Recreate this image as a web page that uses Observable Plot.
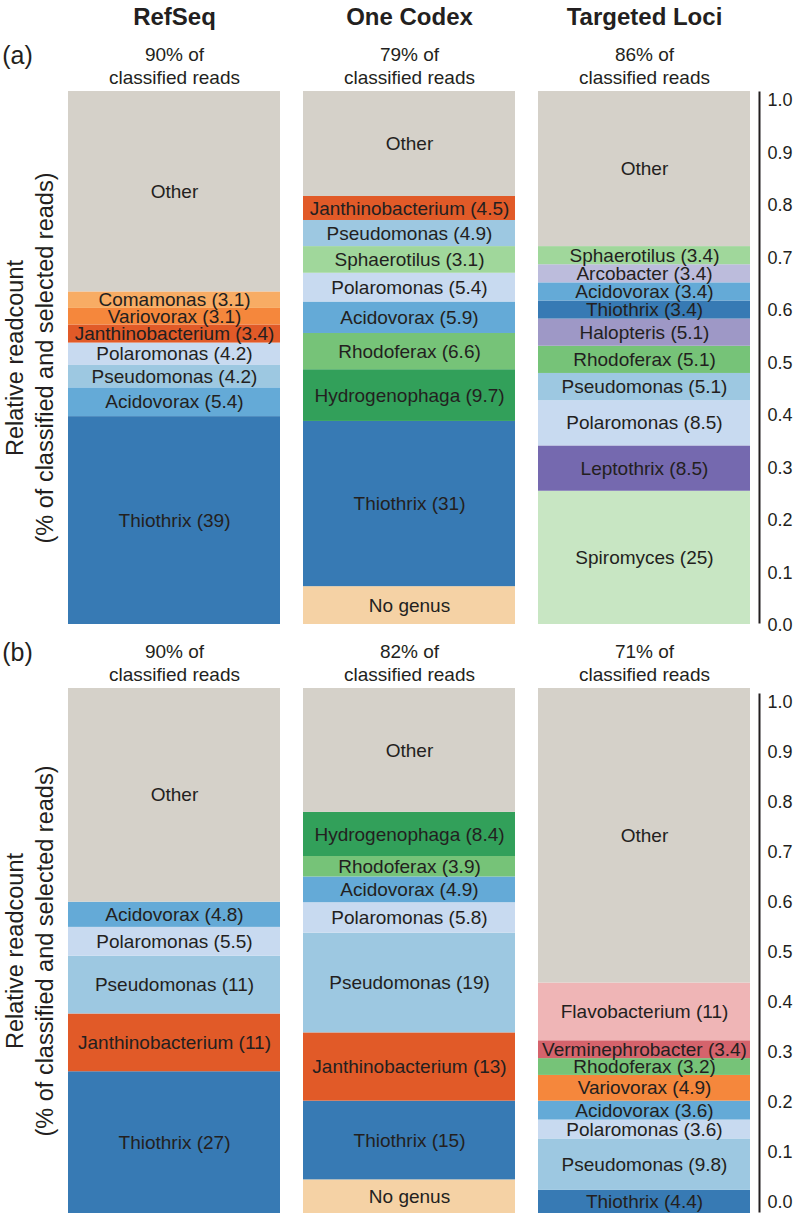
<!DOCTYPE html>
<html>
<head>
<meta charset="utf-8">
<script src="https://cdn.jsdelivr.net/npm/d3@7"></script>
<script src="https://cdn.jsdelivr.net/npm/@observablehq/plot@0.6"></script>
<style>
  html, body { margin: 0; padding: 0; background: #ffffff; }
  #chart svg { display: block; }
  .panel { position: relative; width: 800px; }
</style>
</head>
<body>
<div id="chart"></div>
<script>
// ---------- data ----------
const sources = ["RefSeq", "One Codex", "Targeted Loci"];
const panelTags = ["(a)", "(b)"];
const aClassifiedPct = [90, 79, 86];
const bClassifiedPct = [90, 82, 71];

// bars listed bottom -> top; "drawn" = segment height (% of bar), "printed" = number in the label
const aRefSeqGenus   = ["Thiothrix", "Acidovorax", "Pseudomonas", "Polaromonas", "Janthinobacterium", "Variovorax", "Comamonas", "Other"];
const aRefSeqDrawn   = [39, 5.4, 4.2, 4.2, 3.4, 3.1, 3.1, 37.6];
const aRefSeqPrinted = [39, 5.4, 4.2, 4.2, 3.4, 3.1, 3.1, null];

const aOneCodexGenus   = ["No genus", "Thiothrix", "Hydrogenophaga", "Rhodoferax", "Acidovorax", "Polaromonas", "Sphaerotilus", "Pseudomonas", "Janthinobacterium", "Other"];
const aOneCodexDrawn   = [7.1, 31, 9.7, 6.8, 5.9, 5.4, 5.0, 4.9, 4.5, 19.7];
const aOneCodexPrinted = [null, 31, 9.7, 6.6, 5.9, 5.4, 3.1, 4.9, 4.5, null];

const aTargetedGenus   = ["Spiromyces", "Leptothrix", "Polaromonas", "Pseudomonas", "Rhodoferax", "Halopteris", "Thiothrix", "Acidovorax", "Arcobacter", "Sphaerotilus", "Other"];
const aTargetedDrawn   = [25, 8.5, 8.5, 5.1, 5.1, 5.1, 3.4, 3.4, 3.4, 3.4, 29.1];
const aTargetedPrinted = [25, 8.5, 8.5, 5.1, 5.1, 5.1, 3.4, 3.4, 3.4, 3.4, null];

const bRefSeqGenus   = ["Thiothrix", "Janthinobacterium", "Pseudomonas", "Polaromonas", "Acidovorax", "Other"];
const bRefSeqDrawn   = [27, 11, 11, 5.5, 4.8, 40.7];
const bRefSeqPrinted = [27, 11, 11, 5.5, 4.8, null];

const bOneCodexGenus   = ["No genus", "Thiothrix", "Janthinobacterium", "Pseudomonas", "Polaromonas", "Acidovorax", "Rhodoferax", "Hydrogenophaga", "Other"];
const bOneCodexDrawn   = [6.4, 15, 13, 19, 5.8, 4.9, 3.9, 8.4, 23.6];
const bOneCodexPrinted = [null, 15, 13, 19, 5.8, 4.9, 3.9, 8.4, null];

const bTargetedGenus   = ["Thiothrix", "Pseudomonas", "Polaromonas", "Acidovorax", "Variovorax", "Rhodoferax", "Verminephrobacter", "Flavobacterium", "Other"];
const bTargetedDrawn   = [4.4, 9.8, 3.6, 3.6, 4.9, 3.2, 3.4, 11, 56.1];
const bTargetedPrinted = [4.4, 9.8, 3.6, 3.6, 4.9, 3.2, 3.4, 11, null];

const genera = ["Thiothrix", "Acidovorax", "Pseudomonas", "Polaromonas", "Janthinobacterium", "Variovorax", "Comamonas", "No genus",
                "Hydrogenophaga", "Rhodoferax", "Sphaerotilus", "Spiromyces", "Leptothrix", "Halopteris", "Arcobacter",
                "Flavobacterium", "Verminephrobacter", "Other"];
const generaColors = ["#377ab4", "#64aad7", "#9dc8e1", "#c8daf0", "#e15a28", "#f5873c", "#f8ac64", "#f5d2a5",
                      "#32a05a", "#76c378", "#a0d79b", "#c8e6c3", "#7569af", "#9e98c6", "#bcbcdc",
                      "#efb5b6", "#d5636c", "#d5d1c9"];

const yTicks = [0, 10, 20, 30, 40, 50, 60, 70, 80, 90, 100];
const yTitle1 = "Relative readcount";
const yTitle2 = "(% of classified and selected reads)";

// ---------- build tables ----------
function rows(source, genus, drawn, printed) {
  return genus.map((g, i) => ({
    source, genus: g, drawn: drawn[i],
    label: printed[i] == null ? g : `${g} (${printed[i]})`
  }));
}
const aRows = [
  ...rows("RefSeq", aRefSeqGenus, aRefSeqDrawn, aRefSeqPrinted),
  ...rows("One Codex", aOneCodexGenus, aOneCodexDrawn, aOneCodexPrinted),
  ...rows("Targeted Loci", aTargetedGenus, aTargetedDrawn, aTargetedPrinted)
];
const bRows = [
  ...rows("RefSeq", bRefSeqGenus, bRefSeqDrawn, bRefSeqPrinted),
  ...rows("One Codex", bOneCodexGenus, bOneCodexDrawn, bOneCodexPrinted),
  ...rows("Targeted Loci", bTargetedGenus, bTargetedDrawn, bTargetedPrinted)
];

const FONT = "'Liberation Sans', Arial, Helvetica, sans-serif";
const INK = "#231f20";
const mid = {textAnchor: "middle", lineAnchor: "middle"};

function panel({data, pct, tag, headers, height, marginTop, marginBottom, axisTop, axisBottom, lineTop}) {
  const wrap = document.createElement("div");
  wrap.className = "panel";
  const marks = [
    Plot.barY(data, {x: "source", y: "drawn", fill: "genus", z: "genus"}),
    Plot.text(data, Plot.stackY({x: "source", y: "drawn", z: "genus", text: "label", fill: INK, fontSize: 19})),
    Plot.frame({anchor: "right", insetRight: -9, insetTop: lineTop, insetBottom: 2, stroke: INK, strokeWidth: 2}),
    Plot.text(sources, {x: d => d, text: (d, i) => `${pct[i]}% of`, frameAnchor: "top", dy: -37, fontSize: 19, fill: INK, ...mid}),
    Plot.text(sources, {x: d => d, text: () => "classified reads", frameAnchor: "top", dy: -14, fontSize: 19, fill: INK, ...mid}),
    Plot.text([tag], {frameAnchor: "top-left", dx: -50, dy: -36, text: d => d, fontSize: 25, fill: INK, ...mid}),
    Plot.text([yTitle1], {frameAnchor: "left", rotate: -90, dx: -52, text: d => d, fontSize: 23.5, fill: INK, ...mid}),
    Plot.text([yTitle2], {frameAnchor: "left", rotate: -90, dx: -22, text: d => d, fontSize: 23.5, fill: INK, ...mid})
  ];
  if (headers) {
    marks.push(Plot.text(sources, {x: d => d, text: d => d, frameAnchor: "top", dy: -74, fontSize: 24, fontWeight: "bold", fill: INK, ...mid}));
  }
  const main = Plot.plot({
    width: 800, height, marginTop, marginBottom, marginLeft: 67, marginRight: 50,
    style: {fontFamily: FONT, background: "#ffffff", color: INK},
    x: {domain: sources, paddingInner: 0.1, paddingOuter: 0, axis: null},
    y: {domain: [0, 100], axis: null},
    color: {domain: genera, range: generaColors},
    marks
  });
  const axis = Plot.plot({
    width: 33, height,
    marginTop: marginTop + axisTop, marginBottom: marginBottom + axisBottom, marginLeft: 0, marginRight: 0,
    style: {fontFamily: FONT, background: "transparent", color: INK, overflow: "visible"},
    y: {domain: [0, 100]},
    marks: [
      Plot.axisY({anchor: "left", ticks: yTicks, tickSize: 0, tickPadding: 0, textAnchor: "start",
                  tickFormat: d => (d / 100).toFixed(1), label: null, fontSize: 18, fill: INK})
    ]
  });
  axis.style.position = "absolute";
  axis.style.left = "767px";
  axis.style.top = "0px";
  wrap.append(main, axis);
  return wrap;
}

const chart = document.getElementById("chart");
chart.append(panel({data: aRows, pct: aClassifiedPct, tag: panelTags[0], headers: true,
                    height: 634, marginTop: 91, marginBottom: 10, axisTop: 9, axisBottom: -1, lineTop: 1}));
chart.append(panel({data: bRows, pct: bClassifiedPct, tag: panelTags[1], headers: false,
                    height: 585, marginTop: 54, marginBottom: 6, axisTop: 14, axisBottom: 11, lineTop: 6}));
</script>
</body>
</html>
